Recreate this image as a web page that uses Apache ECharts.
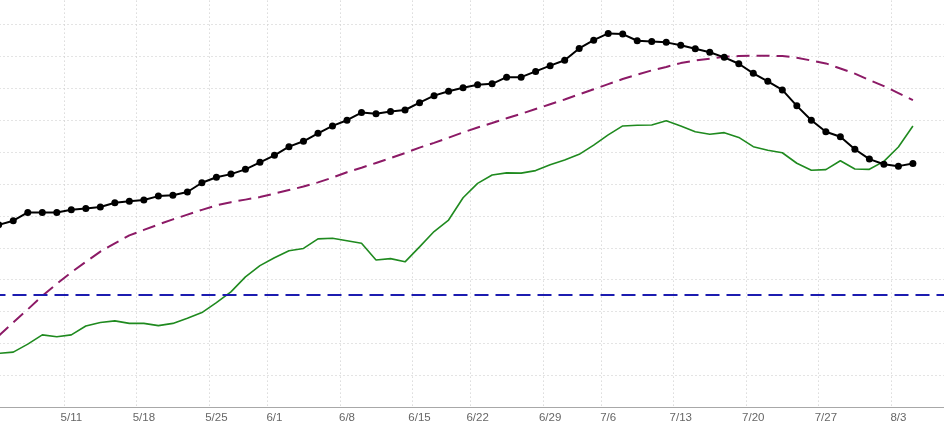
<!DOCTYPE html>
<html>
<head>
<meta charset="utf-8">
<script src="https://cdn.jsdelivr.net/npm/echarts@6/dist/echarts.min.js"></script>
<style>
html,body{margin:0;padding:0;background:#fff;}
#chart{width:944px;height:425px;}
</style>
</head>
<body>
<div id="chart"></div>
<script>
// Trading-day categories (last three are empty slots at the right edge)
const categories = [
  '5/4','5/5','5/6','5/7','5/8',
  '5/11','5/12','5/13','5/14','5/15',
  '5/18','5/19','5/20','5/21','5/22',
  '5/25','5/26','5/27','5/28',
  '6/1','6/2','6/3','6/4','6/5',
  '6/8','6/9','6/10','6/11','6/12',
  '6/15','6/16','6/17','6/18',
  '6/22','6/23','6/24','6/25','6/26',
  '6/29','6/30','7/1','7/2',
  '7/6','7/7','7/8','7/9','7/10',
  '7/13','7/14','7/15','7/16','7/17',
  '7/20','7/21','7/22','7/23','7/24',
  '7/27','7/28','7/29','7/30','7/31',
  '8/3','8/4','8/5','8/6','8/7'
];
const tickLabels = ['5/11','5/18','5/25','6/1','6/8','6/15','6/22','6/29','7/6','7/13','7/20','7/27','8/3'];

const blackValues = [
  57.2,58.5,61.1,61.1,61.1,
  61.9,62.3,62.8,64.1,64.6,
  65.0,66.2,66.5,67.5,70.4,
  72.1,73.1,74.6,76.8,
  79.0,81.7,83.4,85.9,88.2,
  90.0,92.4,92.0,92.7,93.2,
  95.5,97.7,99.1,100.2,
  101.1,101.4,103.5,103.5,105.3,
  107.1,108.8,112.5,115.1,
  117.2,117.0,114.9,114.7,114.4,
  113.5,112.4,111.3,109.7,107.7,
  104.7,102.2,99.5,94.5,90.0,
  86.4,84.8,80.9,77.8,76.2,
  75.6,76.4
];
const purpleValues = [
  22.4,26.6,30.7,34.9,38.7,
  42.3,45.6,48.8,51.4,53.9,
  55.6,57.3,58.9,60.4,61.9,
  63.3,64.3,65.1,65.9,
  67.0,68.1,69.2,70.5,72.0,
  73.7,75.1,76.6,78.1,79.7,
  81.4,82.9,84.5,86.2,
  87.7,89.1,90.6,92.0,93.5,
  95.0,96.5,98.1,99.7,
  101.3,102.9,104.3,105.6,106.7,
  107.9,108.7,109.3,109.9,110.1,
  110.2,110.2,110.1,109.6,108.7,
  107.8,106.2,104.6,102.6,100.7,
  98.5,96.3
];
const greenValues = [
  16.9,17.3,19.8,22.7,22.1,
  22.7,25.5,26.6,27.1,26.3,
  26.3,25.6,26.3,27.9,29.7,
  32.8,36.2,40.9,44.4,
  46.9,49.1,49.8,52.8,53.0,
  52.2,51.4,46.2,46.6,45.6,
  50.3,55.1,58.7,65.7,
  70.2,72.8,73.5,73.4,74.2,
  76.0,77.5,79.3,82.2,
  85.4,88.2,88.4,88.5,89.8,
  88.2,86.4,85.6,86.1,84.6,
  81.7,80.6,79.8,76.5,74.3,
  74.5,77.3,74.7,74.6,77.1,
  81.6,88.2
];
const thresholdValue = 35.4;

const chart = echarts.init(document.getElementById('chart'), null, {renderer: 'canvas'});
const showIdx = (i, v) => tickLabels.indexOf(v) >= 0;

chart.setOption({
  animation: false,
  backgroundColor: '#fff',
  grid: {left: -8.5, right: -19.7, top: -7.4, bottom: 17.7, containLabel: false, outerBoundsMode: 'none'},
  xAxis: {
    type: 'category',
    data: categories,
    boundaryGap: true,
    axisLine: {show: true, lineStyle: {color: '#a8a8a8', width: 1}},
    axisTick: {show: false, interval: showIdx},
    axisLabel: {
      interval: showIdx,
      color: '#666',
      fontSize: 11.5,
      fontFamily: 'Liberation Sans, Arial, sans-serif',
      margin: 5
    },
    splitLine: {show: true, interval: showIdx, lineStyle: {color: '#c8c8c8', width: 1, type: [1, 3]}}
  },
  yAxis: {
    type: 'value',
    min: 0, max: 130, interval: 10,
    axisLine: {show: false},
    axisTick: {show: false},
    axisLabel: {show: false},
    splitLine: {show: true, lineStyle: {color: '#c8c8c8', width: 1, type: [1, 3]}}
  },
  series: [
    {
      name: 'threshold',
      type: 'line',
      data: [],
      z: 1,
      markLine: {
        silent: true,
        symbol: 'none',
        label: {show: false},
        lineStyle: {color: '#1c1cb0', width: 2, type: [14, 7]},
        data: [{yAxis: thresholdValue}]
      }
    },
    {
      name: 'trend',
      type: 'line',
      data: purpleValues,
      showSymbol: false,
      symbol: 'none',
      z: 2,
      lineStyle: {color: '#8c1a66', width: 2, type: [13, 7]}
    },
    {
      name: 'green',
      type: 'line',
      data: greenValues,
      showSymbol: false,
      symbol: 'none',
      z: 3,
      lineStyle: {color: '#1f8a1f', width: 1.6}
    },
    {
      name: 'black',
      type: 'line',
      data: blackValues,
      symbol: 'circle',
      symbolSize: 7,
      showSymbol: true,
      z: 4,
      itemStyle: {color: '#000'},
      lineStyle: {color: '#000', width: 2}
    }
  ]
});
</script>
</body>
</html>
